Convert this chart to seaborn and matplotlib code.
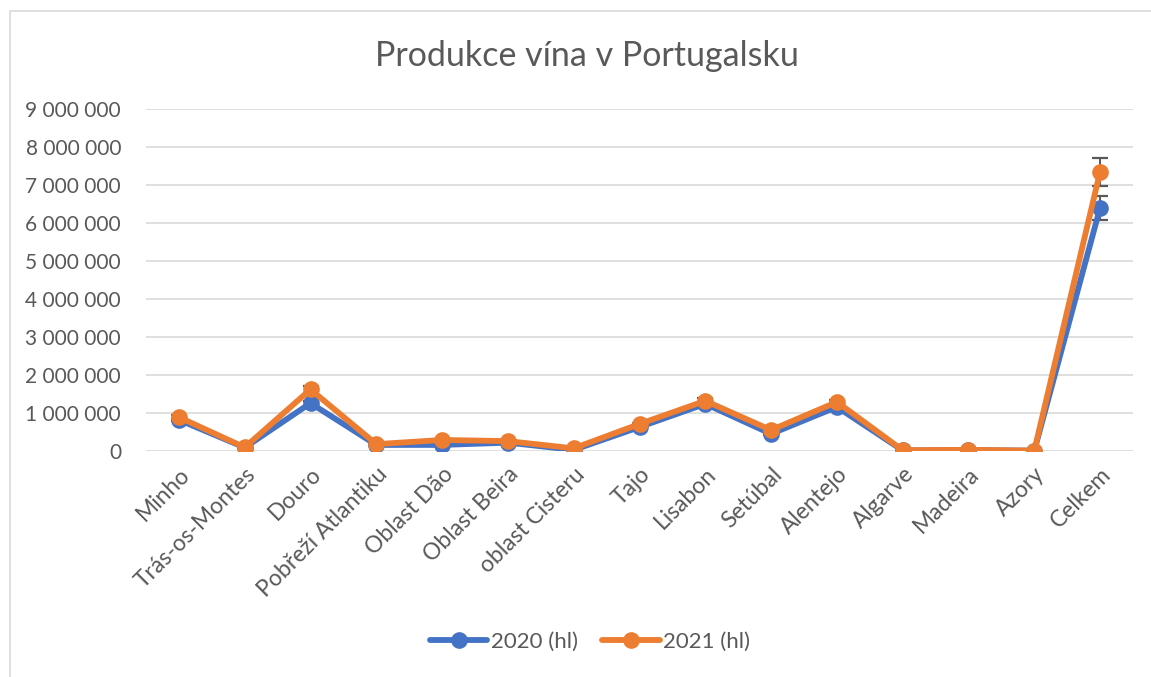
import matplotlib
matplotlib.use("Agg")
import matplotlib.pyplot as plt
import matplotlib.ticker as mticker
from matplotlib.patches import Rectangle
import seaborn as sns
import pandas as pd
import numpy as np

regions = ["Minho", "Trás-os-Montes", "Douro", "Pobřeží Atlantiku", "Oblast Dão",
           "Oblast Beira", "oblast Cisteru", "Tajo", "Lisabon", "Setúbal",
           "Alentejo", "Algarve", "Madeira", "Azory", "Celkem"]
vals_2020 = [820000, 90000, 1260000, 160000, 160000, 220000, 30000, 630000,
             1240000, 450000, 1160000, 15000, 25000, 8000, 6400000]
vals_2021 = [890000, 95000, 1620000, 180000, 290000, 260000, 70000, 710000,
             1320000, 550000, 1290000, 20000, 30000, 10000, 7350000]
series_names = ["2020 (hl)", "2021 (hl)"]
err_pct = 0.05

sns.set_theme(style="white")
plt.rcParams['font.family'] = ['Lato', 'DejaVu Sans']

df = pd.DataFrame({
    "region": regions * 2,
    "value": vals_2020 + vals_2021,
    "series": [series_names[0]] * len(regions) + [series_names[1]] * len(regions),
})

colors = {series_names[0]: "#4472C4", series_names[1]: "#ED7D31"}
text_color = "#595959"

fig = plt.figure(figsize=(11.51, 6.77), dpi=100)
ax = fig.add_axes([146/1151, 1 - 451/677, 987/1151, 342/677])

# error bars (behind lines)
xpos = np.arange(len(regions))
for name, vals in zip(series_names, [vals_2020, vals_2021]):
    v = np.array(vals, dtype=float)
    ax.errorbar(xpos, v, yerr=v * err_pct, fmt="none", ecolor="#595959",
                elinewidth=1.4, capsize=6, capthick=1.6, zorder=2)

sns.lineplot(data=df, x="region", y="value", hue="series", palette=colors,
             marker="o", markersize=12, markeredgewidth=0, linewidth=4.2,
             sort=False, ax=ax, zorder=3)

ax.set_xlim(-0.5, len(regions) - 0.5)
ax.set_ylim(0, 9000000)
ax.yaxis.set_major_locator(mticker.MultipleLocator(1000000))
ax.yaxis.set_major_formatter(mticker.FuncFormatter(lambda v, p: f"{int(round(v)):,}".replace(",", " ")))
ax.grid(axis="y", color="#D9D9D9", linewidth=1.2)
ax.grid(axis="x", visible=False)
ax.set_axisbelow(True)
for s in ax.spines.values():
    s.set_visible(False)
ax.set_xlabel("")
ax.set_ylabel("")
ax.tick_params(axis="both", length=0, colors=text_color)
ax.tick_params(axis="y", pad=18, labelsize=15)
ax.set_xticks(xpos)
ax.set_xticklabels(regions, rotation=45, ha="right", rotation_mode="anchor")
ax.tick_params(axis="x", pad=9, labelsize=16.5)

fig.text(587/1151, 1 - 56/677, "Produkce vína v Portugalsku", ha="center", va="center",
         fontsize=24.5, color=text_color)

handles, labels = ax.get_legend_handles_labels()
leg = fig.legend(handles, labels, loc="center", bbox_to_anchor=(590/1151, 1 - 642/677),
                 ncol=2, frameon=False, fontsize=16, handlelength=2.6,
                 columnspacing=1.1, handletextpad=0.15, labelcolor=text_color)
if ax.get_legend() is not None:
    ax.get_legend().remove()

fig.patches.append(Rectangle((10/1151, -0.1), 1.2, 1 - 11/677 + 0.1,
                             transform=fig.transFigure, fill=False,
                             edgecolor="#D9D9D9", linewidth=1.2))

fig.savefig("out.png", dpi=100)
